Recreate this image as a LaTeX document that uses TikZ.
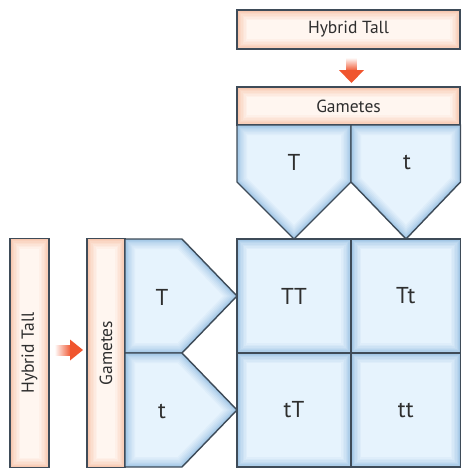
\documentclass[tikz,border=0pt]{standalone}
\usepackage{fontspec}
\setmainfont{PT Sans}
\usetikzlibrary{calc}

\definecolor{edge}{HTML}{3E4B58}
\definecolor{peach}{HTML}{FFF6F0}
\definecolor{peachglow}{HTML}{F39A6E}
\definecolor{cell}{HTML}{E6F3FD}
\definecolor{cellglow}{HTML}{5E9BD2}
\definecolor{arrowred}{HTML}{F0552E}
\definecolor{ink}{HTML}{2E2E2E}

% soft inner glow along the edge of a region (used inside a clip)
\newcommand\innerglow[2]{%
  \foreach \w/\o in {20/0.06, 17/0.06, 14/0.07, 11/0.08, 8/0.09, 5.5/0.11, 3/0.14}
    \draw[#1, opacity=\o, line width=\w pt, line join=round] #2;}

\tikzset{
  glowbox/.style={path picture={
      \innerglow{#1}{(path picture bounding box.south west) rectangle (path picture bounding box.north east)}}},
  peachbox/.style={draw=edge, line width=1.4pt, fill=peach, glowbox=peachglow,
    inner sep=0pt, text=ink, font=\fontsize{17.5}{17.5}\selectfont},
  cellbox/.style={draw=edge, line width=1.4pt, fill=cell, glowbox=cellglow,
    inner sep=0pt, text=ink, font=\fontsize{23}{23}\selectfont},
  gamlabel/.style={text=ink, font=\fontsize{23}{23}\selectfont},
  outline/.style={draw=edge, line width=1.4pt, line join=miter},
}

% a gamete tab: clipped fill with glow, then outline
\newcommand\gametetab[1]{%
  \begin{scope}
    \clip #1;
    \fill[cell] #1;
    \innerglow{cellglow}{#1}
  \end{scope}
  \draw[outline] #1;}

\begin{document}
\begin{tikzpicture}[x=1pt, y=-1pt]
  \useasboundingbox (0,0) rectangle (462,469);

  % parent boxes
  \node[peachbox, minimum width=223pt, minimum height=39pt] (hybT) at (348.5,29.5) {Hybrid Tall};
  \node[peachbox, minimum width=223pt, minimum height=38pt] (gamT) at (348.5,106) {Gametes};
  \node[peachbox, minimum width=229pt, minimum height=39pt, rotate=90] (hybL) at (29.5,353) {Hybrid Tall};
  \node[peachbox, minimum width=229pt, minimum height=38pt, rotate=90] (gamL) at (106,353) {Gametes};

  % gamete tabs along the top
  \gametetab{(237,125) -- (351,125) -- (351,182) -- (294,239) -- (237,182) -- cycle}
  \gametetab{(351,125) -- (460.5,125) -- (460.5,182) -- (406,239) -- (351,182) -- cycle}
  \node[gamlabel] (gT1) at (294,162) {T};
  \node[gamlabel] (gt1) at (407,162) {t};

  % gamete tabs along the left
  \gametetab{(125,239) -- (182,239) -- (237,296) -- (182,353) -- (125,353) -- cycle}
  \gametetab{(125,353) -- (182,353) -- (237,410) -- (182,467) -- (125,467) -- cycle}
  \node[gamlabel] (gT2) at (162,297) {T};
  \node[gamlabel] (gt2) at (162,411) {t};

  % offspring grid
  \node[cellbox, minimum width=114pt, minimum height=114pt] (TT) at (294,296) {TT};
  \node[cellbox, minimum width=109.5pt, minimum height=114pt] (Tt) at (405.75,296) {Tt};
  \node[cellbox, minimum width=114pt, minimum height=114pt] (tT) at (294,410) {tT};
  \node[cellbox, minimum width=109.5pt, minimum height=114pt] (tt) at (405.75,410) {tt};

  % arrows from parent to gametes
  \coordinate (a1s) at ($(hybT.center)+(3,28)$);
  \coordinate (a1e) at ($(gamT.center)+(3,-23)$);
  \shade[top color=white, bottom color=arrowred] ($(a1s)+(-5,0)$) rectangle ($(a1e)+(5,-12)$);
  \fill[arrowred] ($(a1e)+(-12.5,-13)$) -- (a1e) -- ($(a1e)+(12.5,-13)$) -- cycle;

  \coordinate (a2s) at ($(hybL.center)+(25,-3)$);
  \coordinate (a2e) at ($(gamL.center)+(-23,-3)$);
  \shade[left color=white, right color=arrowred] ($(a2s)+(0,-5)$) rectangle ($(a2e)+(-12,5)$);
  \fill[arrowred] ($(a2e)+(-13,-10.5)$) -- (a2e) -- ($(a2e)+(-13,10.5)$) -- cycle;
\end{tikzpicture}
\end{document}
